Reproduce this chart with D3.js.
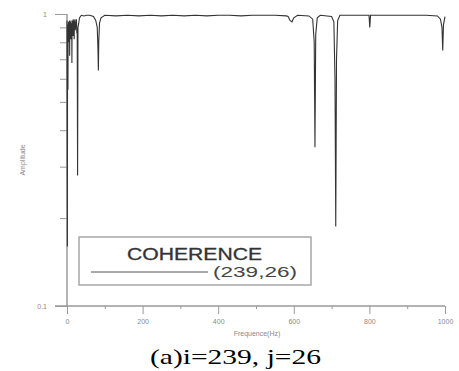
<!DOCTYPE html>
<html><head><meta charset="utf-8">
<script src="https://cdn.jsdelivr.net/npm/d3@7"></script>
<style>body{margin:0;background:#fff}svg{display:block}</style>
</head><body>
<script>
// Data
const freq = [0,1,1.5,2,2.5,3,3.5,4,4.5,5,5.5,6,6.5,7,7.5,8,8.5,9,9.5,10,10.5,11,11.5,12,12.5,13,13.5,14,14.5,15,15.5,16,16.5,17,17.5,18,18.5,19,19.5,20,21,22,23,24,25,26,27,28,29,31,33,38,45,52,60,70,76,80,82,83,84,86,90,100,
  130,160,190,220,250,280,310,340,370,400,430,460,490,520,550,580,585,590,595,600,610,
  640,650,654,656,658,662,670,700,706,709,711,713,716,722,760,799,801,803,850,900,950,980,988,992,994,996,1000];
const coherence = [0.95,0.16,0.85,0.92,0.55,0.9,0.82,0.94,0.86,0.8,0.93,0.88,0.95,0.72,0.9,0.85,0.94,0.87,0.92,0.82,0.95,0.88,0.93,0.86,0.9,0.68,0.92,0.86,0.95,0.88,0.93,0.84,0.96,0.89,0.94,0.86,0.95,0.82,0.93,0.9,0.96,0.88,0.94,0.9,0.96,0.86,0.9,0.28,0.9,0.93,0.97,0.99,0.985,0.99,0.99,0.98,0.95,0.9,0.75,0.64,0.8,0.93,0.97,0.99,
  0.985,0.99,0.985,0.99,0.985,0.99,0.985,0.99,0.985,0.99,0.99,0.985,0.99,0.99,0.99,0.985,0.98,0.95,0.94,0.97,0.99,
  0.985,0.96,0.8,0.35,0.85,0.97,0.99,0.98,0.94,0.6,0.187,0.7,0.95,0.99,0.99,0.99,0.9,0.99,0.99,0.99,0.99,0.985,0.96,0.9,0.75,0.92,0.98];
const xTicks = [0,200,400,600,800,1000];
const xMinor = [100,300,500,700,900];
const yMajor = [0.1,1];
const yMinor = [0.2,0.3,0.4,0.5,0.6,0.7,0.8,0.9];
const legendTitle = "COHERENCE";
const seriesName = "(239,26)";
const xTitle = "Frequence(Hz)";
const yTitle = "Amplitude";
const caption = "(a)i=239, j=26";

const W = 459, H = 371;
const svg = d3.select("body").append("svg").attr("width", W).attr("height", H);
const x = d3.scaleLinear().domain([0,1000]).range([67,445]);
const y = d3.scaleLog().domain([0.1,1]).range([306,14]);
const axisCol = "#9a9a9a", labCol = "#8a8a8a";

// X axis
const gx = svg.append("g").attr("transform","translate(0,306)");
gx.call(d3.axisBottom(x).tickValues(xTicks).tickSize(8).tickPadding(5).tickFormat(d3.format("d")));
gx.append("g").call(d3.axisBottom(x).tickValues(xMinor).tickSize(3).tickFormat(""));
gx.selectAll(".domain").remove();
gx.append("line").attr("x1",55).attr("x2",445).attr("stroke",axisCol).attr("stroke-width",1.5);
gx.selectAll(".tick line").attr("stroke",axisCol);
gx.selectAll(".tick text").attr("fill",labCol).attr("font-family","Liberation Sans, Arial").attr("font-size",7);

// Y axis
const gy = svg.append("g").attr("transform","translate(67,0)");
gy.call(d3.axisLeft(y).tickValues(yMajor).tickSize(12).tickPadding(8).tickFormat(d => d===1?"1":"0.1"));
gy.append("g").call(d3.axisLeft(y).tickValues(yMinor).tickSize(7).tickFormat(""));
gy.selectAll(".domain").remove();
gy.append("line").attr("y1",y(1)).attr("y2",y(0.1)).attr("stroke",axisCol).attr("stroke-width",1.5);
gy.selectAll(".tick line").attr("stroke",axisCol);
gy.selectAll(".tick text").attr("fill",labCol).attr("font-family","Liberation Sans, Arial").attr("font-size",7);

// Axis titles
svg.append("text").attr("x",257).attr("y",336).attr("text-anchor","middle")
  .attr("font-family","Liberation Sans, Arial").attr("font-size",7).attr("fill",labCol).text(xTitle);
svg.append("text").attr("transform","translate(25,160) rotate(-90)").attr("text-anchor","middle")
  .attr("font-family","Liberation Sans, Arial").attr("font-size",7).attr("fill",labCol).text(yTitle);

// Curve
const pts = freq.map((f,i)=>[f,coherence[i]]);
svg.append("path").datum(pts)
  .attr("d", d3.line().x(d=>x(d[0])).y(d=>y(d[1])))
  .attr("fill","none").attr("stroke","#333").attr("stroke-width",1.1);

// Legend
svg.append("rect").attr("x",79).attr("y",237).attr("width",232).attr("height",48)
  .attr("fill","#fff").attr("stroke","#9a9a9a").attr("stroke-width",1.3);
svg.append("text").attr("x",127).attr("y",260).attr("textLength",135).attr("lengthAdjust","spacingAndGlyphs")
  .attr("font-family","Liberation Sans, Arial").attr("font-size",16).attr("fill","#333")
  .attr("stroke","#333").attr("stroke-width",0.3).text(legendTitle);
svg.append("line").attr("x1",91).attr("x2",208).attr("y1",272).attr("y2",272).attr("stroke","#555").attr("stroke-width",1);
svg.append("text").attr("x",213).attr("y",277).attr("textLength",84).attr("lengthAdjust","spacingAndGlyphs")
  .attr("font-family","Liberation Sans, Arial").attr("font-size",15).attr("fill","#444").text(seriesName);

// Caption
svg.append("text").attr("x",150).attr("y",364).attr("textLength",171).attr("lengthAdjust","spacingAndGlyphs")
  .attr("font-family","Liberation Serif, DejaVu Serif, serif").attr("font-size",22).attr("fill","#000").text(caption);
</script>
</body></html>
